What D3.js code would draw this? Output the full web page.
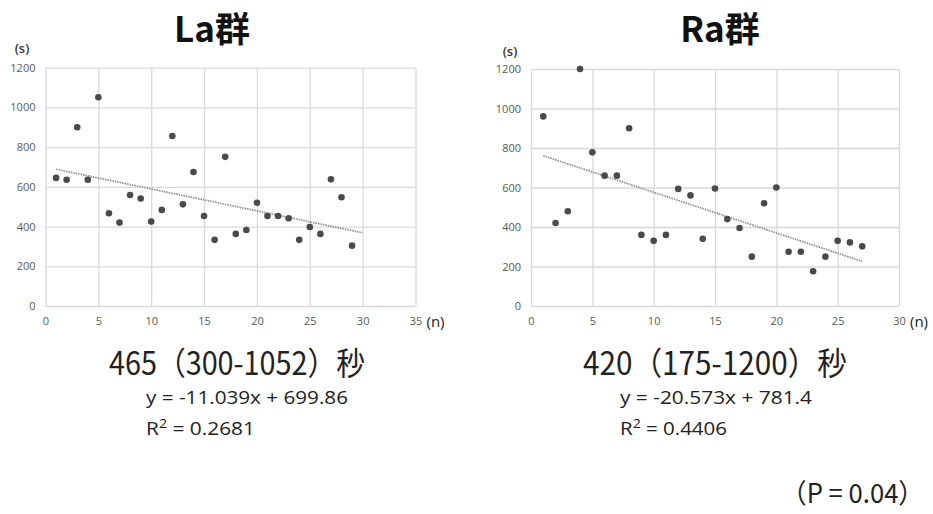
<!DOCTYPE html>
<html>
<head>
<meta charset="utf-8">
<script src="https://cdn.jsdelivr.net/npm/d3@7"></script>
<style>
  body { margin: 0; background: #fff; }
  svg text { font-family: "Open Sans", "Noto Sans CJK JP", sans-serif; }
</style>
</head>
<body>
<div id="chart"></div>
<script>
// La group: n and seconds
const laN = [1,2,3,4,5,6,7,8,9,10,11,12,13,14,15,16,17,18,19,20,21,22,23,24,25,26,27,28,29];
const laSec = [645,636,900,636,1051,467,420,559,541,425,484,856,512,675,453,333,751,363,383,520,453,453,442,333,398,363,638,548,304];
const laTrend = {slope: -11.039, intercept: 699.86, from: 1, to: 30};

// Ra group
const raN = [1,2,3,4,5,6,7,8,9,10,11,12,13,14,15,16,17,18,19,20,21,22,23,24,25,26,27];
const raSec = [960,420,480,1200,778,660,660,900,360,330,360,593,560,340,595,440,395,250,520,600,275,275,176,250,330,322,302];
const raTrend = {slope: -20.573, intercept: 781.4, from: 1, to: 27};

const yTicks = [0,200,400,600,800,1000,1200];
const laXTicks = [0,5,10,15,20,25,30,35];
const raXTicks = [0,5,10,15,20,25,30];

const W = 933, H = 514;
const svg = d3.select("#chart").append("svg")
    .attr("width", W)
    .attr("height", H);

function fitText(sel, len) {
  sel.attr("textLength", len).attr("lengthAdjust", "spacingAndGlyphs");
}

function drawPanel(opt) {
  const x = d3.scaleLinear().domain(opt.xDomain).range(opt.xRange);
  const y = d3.scaleLinear().domain([0, 1200]).range(opt.yRange);
  const g = svg.append("g");

  // title
  g.append("text")
    .attr("x", opt.titleX).attr("y", 42)
    .attr("text-anchor", "middle")
    .style("font-family", "'Noto Sans CJK JP', sans-serif")
    .style("font-weight", 700)
    .style("font-size", "35px")
    .attr("fill", "#111")
    .text(opt.title);

  // grid
  g.append("g")
    .attr("transform", `translate(0,${opt.yRange[0]})`)
    .call(d3.axisBottom(x).tickValues(opt.xTicks).tickSize(opt.yRange[1] - opt.yRange[0]).tickFormat(""))
    .call(s => s.select(".domain").remove())
    .call(s => s.selectAll("line").attr("stroke", "#d9d9d9").attr("stroke-width", 1.3));
  g.append("g")
    .attr("transform", `translate(${opt.xRange[0]},0)`)
    .call(d3.axisLeft(y).tickValues(yTicks).tickSize(opt.xRange[0] - opt.xRange[1]).tickFormat(""))
    .call(s => s.select(".domain").remove())
    .call(s => s.selectAll("line").attr("stroke", "#d9d9d9").attr("stroke-width", 1.3));

  // tick labels
  g.append("g")
    .attr("transform", `translate(0,${opt.yRange[0]})`)
    .call(d3.axisBottom(x).tickValues(opt.xTicks).tickSize(0).tickPadding(11).tickFormat(d3.format("d")))
    .call(s => s.select(".domain").remove())
    .call(s => s.selectAll("text").attr("fill", "#595959").style("font-size", "11px"));
  g.append("g")
    .attr("transform", `translate(${opt.xRange[0]},0)`)
    .call(d3.axisLeft(y).tickValues(yTicks).tickSize(0).tickPadding(10).tickFormat(d3.format("d")))
    .call(s => s.select(".domain").remove())
    .call(s => s.selectAll("text").attr("fill", "#595959").style("font-size", "11px"));

  // unit labels
  g.append("text")
    .attr("x", opt.sX).attr("y", opt.sY)
    .attr("text-anchor", "middle")
    .style("font-size", "13px").style("font-weight", 600).attr("fill", "#333")
    .text("(s)");
  g.append("text")
    .attr("x", opt.xRange[1] + 11).attr("y", 327)
    .style("font-size", "15px").attr("fill", "#222")
    .text("(n)");

  // trend line (dotted)
  const t = opt.trend;
  g.append("line")
    .attr("x1", x(t.from)).attr("y1", y(t.slope * t.from + t.intercept))
    .attr("x2", x(t.to)).attr("y2", y(t.slope * t.to + t.intercept))
    .attr("stroke", "#8c8c8c")
    .attr("stroke-width", 1.7)
    .attr("stroke-dasharray", "1.5,1");

  // points
  g.append("g").selectAll("circle")
    .data(opt.n.map((d, i) => ({n: d, s: opt.sec[i]})))
    .join("circle")
    .attr("cx", d => x(d.n))
    .attr("cy", d => y(d.s))
    .attr("r", 3.3)
    .attr("fill", "#4a4a4a");

  // summary text
  g.append("text")
    .attr("x", opt.sumX).attr("y", 375)
    .style("font-family", "'Noto Sans CJK JP', sans-serif")
    .style("font-size", "32px").attr("fill", "#222")
    .text(opt.summary)
    .call(fitText, opt.sumW);
  g.append("text")
    .attr("x", opt.eqX).attr("y", 404)
    .style("font-size", "17.5px").attr("fill", "#222")
    .text(opt.eq)
    .call(fitText, opt.eqW);
  const r = g.append("text")
    .attr("x", opt.eqX).attr("y", 435)
    .style("font-size", "17.5px").attr("fill", "#222");
  r.append("tspan").text("R");
  r.append("tspan").attr("dy", -7).style("font-size", "12px").text("2");
  r.append("tspan").attr("dy", 7).text(" = " + opt.r2);
  r.call(fitText, opt.r2W);
}

drawPanel({
  title: "La群", titleX: 212,
  xDomain: [0, 35], xRange: [45.5, 415.5], yRange: [306, 67.7],
  xTicks: laXTicks, n: laN, sec: laSec, trend: laTrend,
  sX: 22, sY: 53,
  summary: "465（300-1052）秒", sumX: 109, sumW: 256,
  eq: "y = -11.039x + 699.86", eqX: 146, eqW: 202,
  r2: "0.2681", r2W: 109
});

drawPanel({
  title: "Ra群", titleX: 720,
  xDomain: [0, 30], xRange: [531, 899], yRange: [306, 69],
  xTicks: raXTicks, n: raN, sec: raSec, trend: raTrend,
  sX: 510, sY: 56,
  summary: "420（175-1200）秒", sumX: 583, sumW: 264,
  eq: "y = -20.573x + 781.4", eqX: 620, eqW: 192,
  r2: "0.4406", r2W: 107
});

svg.append("text")
  .attr("x", 781).attr("y", 503)
  .style("font-family", "'Noto Sans CJK JP', sans-serif")
  .style("font-size", "27px").attr("fill", "#222")
  .text("（P = 0.04）")
  .call(fitText, 143);
</script>
</body>
</html>
